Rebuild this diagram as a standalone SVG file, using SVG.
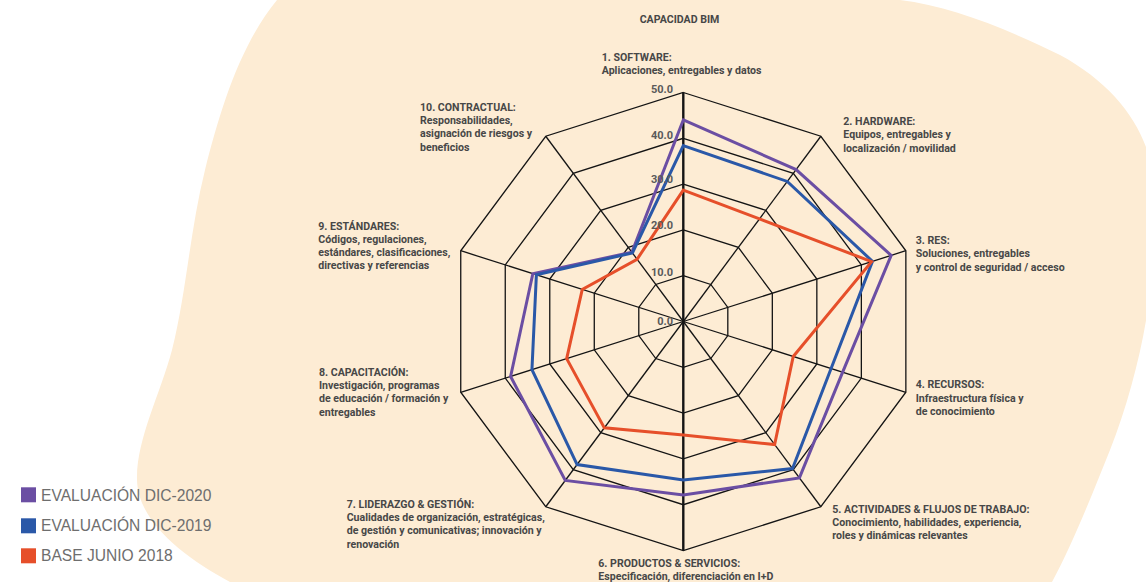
<svg xmlns="http://www.w3.org/2000/svg" width="1146" height="582" viewBox="0 0 1146 582">
  <style>
    .lbl { font-family: Roboto, "Liberation Sans", sans-serif; font-weight: 700; font-size: 10.6px; fill: #474747; }
    .tick { font-family: Roboto, "Liberation Sans", sans-serif; font-weight: 700; font-size: 11px; fill: #5a5a5a; text-anchor: end; }
    .grid { fill: none; stroke: #141414; stroke-width: 1.3; vector-effect: non-scaling-stroke; stroke-linejoin: miter; }
    .axis { stroke: #141414; stroke-width: 1.3; vector-effect: non-scaling-stroke; }
    .axis-main { stroke: #141414; stroke-width: 2.4; vector-effect: non-scaling-stroke; }
    .series { fill: none; stroke-width: 3; vector-effect: non-scaling-stroke; stroke-linejoin: miter; }
    .legend { font-family: "Liberation Sans", Arial, sans-serif; font-size: 15.6px; fill: #6e6e6e; }
  </style>

  <rect width="1146" height="582" fill="#ffffff"/>

  <!-- background blob -->
  <path id="blob" fill="#fdecd4" d="M 277,0 L 900,0 C 950,6 1005,28 1060,55 C 1110,82 1140,120 1150,160 L 1150,290 C 1146,335 1130,400 1110,450 C 1092,495 1072,545 1052,582 L 230,582 C 180,555 138,520 137,480 C 136,440 160,395 172,350 C 186,295 190,230 205,170 C 220,110 240,45 277,0 Z"/>

  <!-- radar chart, local units: 1 unit = one point of score -->
  <g id="radar" transform="translate(683.3,321.5) scale(4.68,4.58)">
    <g id="rings">
      <polygon class="grid" points="0,-10 5.878,-8.09 9.511,-3.09 9.511,3.09 5.878,8.09 0,10 -5.878,8.09 -9.511,3.09 -9.511,-3.09 -5.878,-8.09"/>
      <polygon class="grid" points="0,-20 11.756,-16.18 19.022,-6.18 19.022,6.18 11.756,16.18 0,20 -11.756,16.18 -19.022,6.18 -19.022,-6.18 -11.756,-16.18"/>
      <polygon class="grid" points="0,-30 17.634,-24.27 28.533,-9.27 28.533,9.27 17.634,24.27 0,30 -17.634,24.27 -28.533,9.27 -28.533,-9.27 -17.634,-24.27"/>
      <polygon class="grid" points="0,-40 23.512,-32.36 38.044,-12.36 38.044,12.36 23.512,32.36 0,40 -23.512,32.36 -38.044,12.36 -38.044,-12.36 -23.512,-32.36"/>
      <polygon class="grid" points="0,-50 29.39,-40.45 47.555,-15.45 47.555,15.45 29.39,40.45 0,50 -29.39,40.45 -47.555,15.45 -47.555,-15.45 -29.39,-40.45"/>
    </g>
    <g id="spokes">
      <line class="axis" x1="0" y1="0" x2="29.39" y2="-40.45"/>
      <line class="axis" x1="0" y1="0" x2="47.555" y2="-15.45"/>
      <line class="axis" x1="0" y1="0" x2="47.555" y2="15.45"/>
      <line class="axis" x1="0" y1="0" x2="29.39" y2="40.45"/>
      <line class="axis" x1="0" y1="0" x2="-29.39" y2="40.45"/>
      <line class="axis" x1="0" y1="0" x2="-47.555" y2="15.45"/>
      <line class="axis" x1="0" y1="0" x2="-47.555" y2="-15.45"/>
      <line class="axis" x1="0" y1="0" x2="-29.39" y2="-40.45"/>
      <line class="axis-main" x1="0" y1="-50" x2="0" y2="50"/>
    </g>
    <g id="series">
      <polygon id="dic-2020" class="series" stroke="#6b4ea3" points="0,-44 24.10,-33.17 44.42,-14.43 34.05,11.06 24.81,34.14 0,37.9 -25.22,34.71 -36.90,11.99 -32.15,-10.44 -10.99,-15.13"/>
      <polygon id="dic-2019" class="series" stroke="#2a58a8" points="0,-38.4 22.22,-30.58 40.42,-13.13 31.58,10.26 23.34,32.12 0,34.6 -22.69,31.23 -32.34,10.51 -31.39,-10.20 -10.87,-14.97"/>
      <polygon id="jun-2018" class="series" stroke="#e64f2a" points="0,-28.7 16.28,-22.41 40.23,-13.07 23.49,7.63 19.51,26.86 0,24.8 -16.87,23.22 -24.92,8.10 -21.59,-7.01 -9.88,-13.59"/>
    </g>
  </g>

  <!-- scale values along the vertical axis -->
  <g id="ticks">
    <text class="tick" x="673" y="93">50.0</text>
    <text class="tick" x="673" y="138.5">40.0</text>
    <text class="tick" x="673" y="183">30.0</text>
    <text class="tick" x="673" y="229">20.0</text>
    <text class="tick" x="673" y="275.5">10.0</text>
    <text class="tick" x="673" y="325">0.0</text>
  </g>

  <text class="lbl" x="679.5" y="23" text-anchor="middle" font-size="9.8">CAPACIDAD BIM</text>

  <g id="axis-1" class="lbl">
    <text x="601.7" y="61">1. SOFTWARE:</text>
    <text x="601.7" y="74.3">Aplicaciones, entregables y datos</text>
  </g>
  <g id="axis-2" class="lbl">
    <text x="843.3" y="125">2. HARDWARE:</text>
    <text x="843.3" y="138.3">Equipos, entregables y</text>
    <text x="843.3" y="151.6">localización / movilidad</text>
  </g>
  <g id="axis-3" class="lbl">
    <text x="915.7" y="244">3. RES:</text>
    <text x="915.7" y="257.3">Soluciones, entregables</text>
    <text x="915.7" y="270.6">y control de seguridad / acceso</text>
  </g>
  <g id="axis-4" class="lbl">
    <text x="915.7" y="388.3">4. RECURSOS:</text>
    <text x="915.7" y="401.6">Infraestructura física y</text>
    <text x="915.7" y="414.9">de conocimiento</text>
  </g>
  <g id="axis-5" class="lbl">
    <text x="832.3" y="512.7">5. ACTIVIDADES &amp; FLUJOS DE TRABAJO:</text>
    <text x="832.3" y="526">Conocimiento, habilidades, experiencia,</text>
    <text x="832.3" y="539.3">roles y dinámicas relevantes</text>
  </g>
  <g id="axis-6" class="lbl">
    <text x="598.3" y="566.7">6. PRODUCTOS &amp; SERVICIOS:</text>
    <text x="598.3" y="580">Especificación, diferenciación en I+D</text>
  </g>
  <g id="axis-7" class="lbl">
    <text x="346.7" y="507.7">7. LIDERAZGO &amp; GESTIÓN:</text>
    <text x="346.7" y="521">Cualidades de organización, estratégicas,</text>
    <text x="346.7" y="534.3">de gestión y comunicativas; innovación y</text>
    <text x="346.7" y="547.6">renovación</text>
  </g>
  <g id="axis-8" class="lbl">
    <text x="319" y="375.7">8. CAPACITACIÓN:</text>
    <text x="319" y="389">Investigación, programas</text>
    <text x="319" y="402.3">de educación / formación y</text>
    <text x="319" y="415.6">entregables</text>
  </g>
  <g id="axis-9" class="lbl">
    <text x="318.3" y="229.5">9. ESTÁNDARES:</text>
    <text x="318.3" y="242.8">Códigos, regulaciones,</text>
    <text x="318.3" y="256.1">estándares, clasificaciones,</text>
    <text x="318.3" y="269.4">directivas y referencias</text>
  </g>
  <g id="axis-10" class="lbl">
    <text x="420" y="110.7">10. CONTRACTUAL:</text>
    <text x="420" y="124">Responsabilidades,</text>
    <text x="420" y="137.3">asignación de riesgos y</text>
    <text x="420" y="150.6">beneficios</text>
  </g>

  <!-- legend -->
  <g id="legend">
    <rect x="21" y="487.3" width="15" height="15" fill="#6b4ea3"/>
    <text class="legend" x="41" y="500.7">EVALUACIÓN DIC-2020</text>
    <rect x="21" y="518.3" width="15" height="15" fill="#2a58a8"/>
    <text class="legend" x="41" y="530.8">EVALUACIÓN DIC-2019</text>
    <rect x="21" y="548.3" width="15" height="15" fill="#e64f2a"/>
    <text class="legend" x="41" y="560.8">BASE JUNIO 2018</text>
  </g>
</svg>
